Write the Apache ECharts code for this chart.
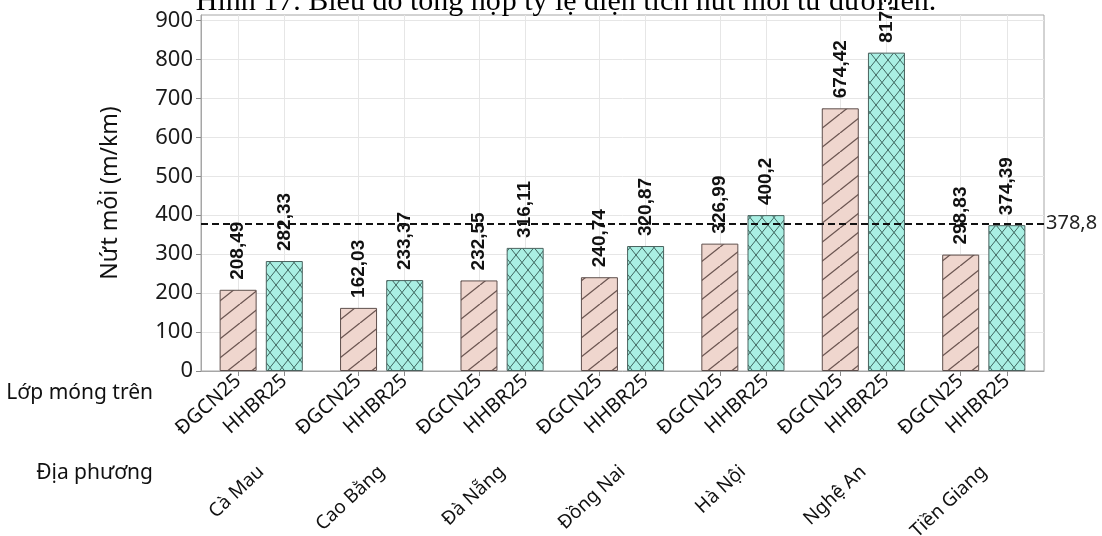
<!DOCTYPE html>
<html>
<head>
<meta charset="utf-8">
<script src="https://cdn.jsdelivr.net/npm/echarts@6/dist/echarts.min.js"></script>
<style>
  html, body { margin: 0; padding: 0; background: #ffffff; }
  #chart { width: 1102px; height: 536px; }
</style>
</head>
<body>
<div id="chart"></div>
<script>
// Regions (outer groups) and base-layer types (bars inside each group)
const regions = ['Cà Mau', 'Cao Bằng', 'Đà Nẵng', 'Đồng Nai', 'Hà Nội', 'Nghệ An', 'Tiền Giang'];
const layers = ['ĐGCN25', 'HHBR25'];

// Fatigue cracking (m/km) per region
const valuesDGCN25 = [208.49, 162.03, 232.55, 240.74, 326.99, 674.42, 298.83];
const valuesHHBR25 = [282.33, 233.37, 316.11, 320.87, 400.2, 817.38, 374.39];

// Overall mean, drawn as a dashed reference line
const meanValue = 378.8;

// Y axis ticks
const yTicks = [0, 100, 200, 300, 400, 500, 600, 700, 800, 900];

const titleText = 'Hình 17. Biểu đồ tổng hợp tỷ lệ diện tích nứt mỏi từ dưới lên.';
const yAxisName = 'Nứt mỏi (m/km)';
const rowLabels = ['Lớp móng trên', 'Địa phương'];

// ---- layout helpers ----
const PAIR_OFFSET = 0.1917;           // half distance between the two bars of a group, in group units
const posOf = (i, j) => i + 0.5 + (j === 0 ? -PAIR_OFFSET : PAIR_OFFSET);
const barPositions = [];
regions.forEach((_, i) => { barPositions.push(posOf(i, 0), posOf(i, 1)); });

const fmtNum = v => String(v).replace('.', ',');

// Hatch fill tiles
function hatch(bg, line, w, h, dirs, lw) {
  const c = document.createElement('canvas');
  c.width = w; c.height = h;
  const g = c.getContext('2d');
  g.fillStyle = bg;
  g.fillRect(0, 0, w, h);
  g.strokeStyle = line;
  g.lineWidth = lw;
  for (let k = -1; k <= 1; k++) {
    if (dirs.includes('/')) {
      g.beginPath(); g.moveTo(k * w, h); g.lineTo((k + 1) * w, 0); g.stroke();
    }
    if (dirs.includes('\\')) {
      g.beginPath(); g.moveTo(k * w, 0); g.lineTo((k + 1) * w, h); g.stroke();
    }
  }
  return { image: c, repeat: 'repeat' };
}
const fillDG = hatch('#efd6ce', '#6a5450', 24, 19, ['/'], 1.3);
const fillHH = hatch('#a9efe3', '#3e655f', 12, 15, ['/', '\\'], 1);

const labelFont = 'Noto Sans';

const chart = echarts.init(document.getElementById('chart'), null, { renderer: 'canvas' });

const barLabel = {
  show: true,
  position: 'top',
  rotate: 90,
  align: 'left',
  verticalAlign: 'middle',
  distance: 10,
  fontFamily: 'Liberation Sans',
  fontWeight: 'bold',
  fontSize: 19,
  color: '#111',
  formatter: p => fmtNum(p.value[1])
};

chart.setOption({
  animation: false,
  backgroundColor: '#ffffff',
  graphic: [
    {
      type: 'text', x: 566, y: 17, z: 0,
      style: {
        text: titleText, font: '30px "Liberation Serif"', fill: '#000',
        textAlign: 'center', textVerticalAlign: 'bottom'
      }
    },
    {
      type: 'text', x: 153, y: 393,
      style: { text: rowLabels[0], font: '21px "Noto Sans"', fill: '#111', textAlign: 'right', textVerticalAlign: 'middle' }
    },
    {
      type: 'text', x: 153, y: 473,
      style: { text: rowLabels[1], font: '21px "Noto Sans"', fill: '#111', textAlign: 'right', textVerticalAlign: 'middle' }
    }
  ],
  grid: {
    left: 201, right: 58, top: 15, bottom: 165,
    containLabel: false, outerBoundsMode: 'none',
    show: true, borderColor: '#a6a6a6', borderWidth: 1, backgroundColor: 'transparent'
  },
  xAxis: [
    {
      type: 'value', min: 0, max: regions.length, position: 'bottom',
      axisLine: { show: true, onZero: false, lineStyle: { color: '#a6a6a6' } },
      axisTick: { show: true, length: 5, customValues: barPositions, lineStyle: { color: '#8a8a8a' } },
      axisLabel: {
        show: true, customValues: barPositions, rotate: 42, margin: 7,
        fontFamily: labelFont, fontSize: 20, color: '#111',
        formatter: v => layers[(v % 1) < 0.5 ? 0 : 1]
      },
      splitLine: { show: true, lineStyle: { color: '#e6e6e6', width: 1 } }
    },
    {
      type: 'category', data: regions, position: 'bottom', offset: 90,
      axisLine: { show: false }, axisTick: { show: false },
      axisLabel: { rotate: 43, margin: 8, fontFamily: labelFont, fontSize: 19, color: '#111', interval: 0 },
      splitLine: { show: false }
    }
  ],
  yAxis: {
    type: 'value', min: 0, max: 914,
    name: yAxisName, nameLocation: 'middle', nameGap: 79,
    nameTextStyle: { fontFamily: labelFont, fontSize: 23, color: '#111' },
    axisLine: { show: true, lineStyle: { color: '#a6a6a6' } },
    axisTick: { show: true, length: 5, customValues: yTicks, lineStyle: { color: '#8a8a8a' } },
    axisLabel: { customValues: yTicks, margin: 8, fontFamily: labelFont, fontSize: 22, color: '#1a1a1a' },
    splitLine: { show: true, lineStyle: { color: '#e6e6e6', width: 1 } }
  },
  series: [
    {
      name: layers[0], type: 'bar', xAxisIndex: 0, barWidth: 37, barGap: '-100%',
      data: valuesDGCN25.map((v, i) => [posOf(i, 0), v]),
      itemStyle: { color: fillDG, borderColor: '#5e4f4c', borderWidth: 1 },
      label: barLabel, z: 3
    },
    {
      name: layers[1], type: 'bar', xAxisIndex: 0, barWidth: 37, barGap: '-100%',
      data: valuesHHBR25.map((v, i) => [posOf(i, 1), v]),
      itemStyle: { color: fillHH, borderColor: '#4a625e', borderWidth: 1 },
      label: barLabel, z: 3,
      markLine: {
        silent: true, symbol: 'none', z: 5,
        lineStyle: { type: [7, 4], color: '#111', width: 2 },
        label: {
          show: true, position: 'end', distance: 2,
          fontFamily: labelFont, fontSize: 20, color: '#222',
          formatter: () => fmtNum(meanValue)
        },
        data: [{ yAxis: meanValue }]
      }
    }
  ]
});
</script>
</body>
</html>
